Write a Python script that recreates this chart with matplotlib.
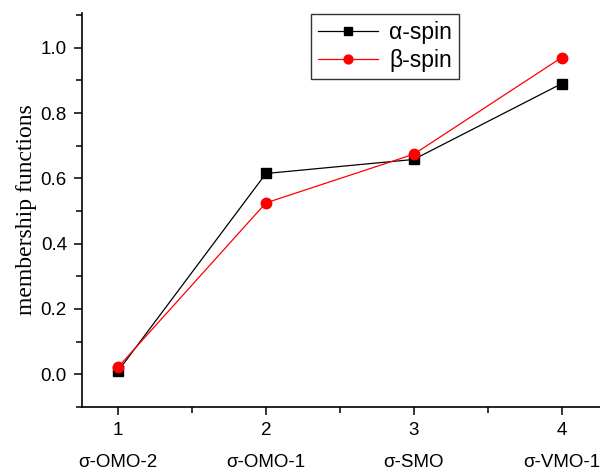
import matplotlib
matplotlib.use("Agg")
import matplotlib.pyplot as plt
from matplotlib.ticker import MultipleLocator
import matplotlib.transforms as mtransforms

# data
levels = [1, 2, 3, 4]
orbitals = ["σ-OMO-2", "σ-OMO-1", "σ-SMO", "σ-VMO-1"]
alpha_spin = [0.010, 0.615, 0.658, 0.890]
beta_spin = [0.022, 0.525, 0.674, 0.970]

plt.rcParams['font.family'] = ['Liberation Sans', 'DejaVu Sans']

fig = plt.figure(figsize=(6.0, 4.71), dpi=100)
ax = fig.add_axes([0.137, 0.136, 0.863, 0.836])

ax.plot(levels, alpha_spin, color="black", lw=0.9, marker="s", ms=6.5,
        label="α-spin")
ax.plot(levels, beta_spin, color="red", lw=0.9, marker="o", ms=7.5,
        label="β-spin")

ax.set_xlim(0.757, 4.26)
ax.set_ylim(-0.1, 1.106)
ax.xaxis.set_major_locator(MultipleLocator(1))
ax.xaxis.set_minor_locator(MultipleLocator(0.5))
ax.yaxis.set_major_locator(MultipleLocator(0.2))
ax.yaxis.set_minor_locator(MultipleLocator(0.1))
ax.yaxis.set_major_formatter(plt.FuncFormatter(lambda v, p: "%.1f" % v))

for s in ["top", "right"]:
    ax.spines[s].set_visible(False)
for s in ["left", "bottom"]:
    ax.spines[s].set_linewidth(1.2)

ax.tick_params(which="major", direction="out", length=6, width=1.1,
               labelsize=13.5, pad=5)
ax.tick_params(which="minor", direction="out", length=4, width=1.1)

ax.set_ylabel("membership functions", family=["Liberation Serif"],
              fontsize=17, labelpad=3)

trans = mtransforms.blended_transform_factory(ax.transData, ax.transAxes)
for x, name in zip(levels, orbitals):
    ax.text(x, -0.14, name, transform=trans, ha="center", va="center",
            fontsize=13.5, clip_on=False)

leg = ax.legend(loc="upper left", bbox_to_anchor=(0.42, 1.026),
                fontsize=16.5, handlelength=2.6, markerscale=0.85,
                frameon=True, fancybox=False,
                edgecolor="black", borderpad=0.3, labelspacing=0.2,
                handletextpad=0.5)
leg.get_frame().set_linewidth(1.0)

fig.savefig("out.png", dpi=100)
